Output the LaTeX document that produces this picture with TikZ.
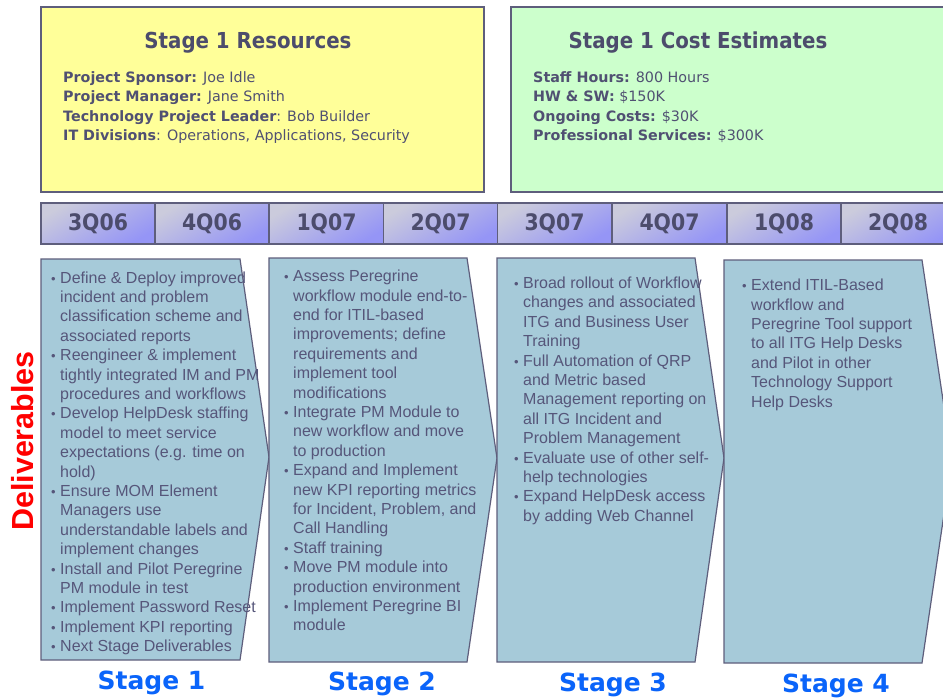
\documentclass[tikz,border=0pt]{standalone}
\usepackage{fontspec}
\setmainfont{Liberation Sans}
\newfontfamily\tah{DejaVu Sans Condensed}
\newfontfamily\verd{DejaVu Sans}
\definecolor{headc}{HTML}{4C4C6C}
\definecolor{bodyc}{HTML}{505072}
\definecolor{chevtext}{HTML}{56567A}
\definecolor{bordc}{HTML}{5E5E7C}
\definecolor{yelfill}{HTML}{FFFF99}
\definecolor{grnfill}{HTML}{CCFFCC}
\definecolor{chevfill}{HTML}{A6CAD9}
\definecolor{tlA}{HTML}{CBCBDC}
\definecolor{tlB}{HTML}{9595F6}
\definecolor{stageblue}{HTML}{0A64FA}
\newcommand{\bul}{\llap{{\fontsize{13}{13}\selectfont •}\hspace{4.5pt}}}
\tikzset{
  infobox/.style={line width=1.2pt, draw=bordc},
  chev/.style={fill=chevfill, draw=bordc, line width=1.2pt, line join=miter},
  qcell/.style={draw=bordc, line width=1.2pt, top color=tlA, bottom color=tlB,
    shading angle=30, minimum width=114pt, minimum height=41pt, inner sep=0pt,
    font=\tah\bfseries\fontsize{22.7}{24}\selectfont, text=headc},
  heading/.style={anchor=base, inner sep=0pt, text=headc,
    font=\tah\bfseries\fontsize{22}{24}\selectfont},
  infotext/.style={anchor=north west, inner sep=0pt, text=bodyc,
    font=\verd\fontsize{14.3}{19.5}\selectfont},
  chevlist/.style={anchor=north west, inner sep=0pt, text=chevtext,
    font=\fontsize{16}{19.4}\selectfont},
  stagelabel/.style={anchor=base, inner sep=0pt, text=stageblue,
    font=\verd\bfseries\fontsize{25}{26}\selectfont},
}
\begin{document}
\begin{tikzpicture}[x=1pt,y=-1pt]
\clip (0,0) rectangle (943,698);
\fill[white] (0,0) rectangle (943,698);

% top boxes
\draw[infobox, fill=yelfill] (41,7) rectangle (484,192);
\draw[infobox, fill=grnfill] (511,7) rectangle (970,192);
\node[heading] (reshead) at (248,49) {Stage 1 Resources};
\node[infotext] (restext) at (63,68.35) {\begin{tabular}{@{}l@{}}
\textbf{Project Sponsor:} Joe Idle\\
\textbf{Project Manager:} Jane Smith\\
\textbf{Technology Project Leader}: Bob Builder\\
\textbf{IT Divisions}: Operations, Applications, Security
\end{tabular}};
\node[heading] (costhead) at (698,49) {Stage 1 Cost Estimates};
\node[infotext] (costtext) at (533,68.35) {\begin{tabular}{@{}l@{}}
\textbf{Staff Hours:} 800 Hours\\
\textbf{HW \& SW:} \$150K\\
\textbf{Ongoing Costs:} \$30K\\
\textbf{Professional Services:} \$300K
\end{tabular}};

% timeline
\node[qcell] (q1) at (98,223.5) {3Q06};
\node[qcell] (q2) at (212,223.5) {4Q06};
\node[qcell] (q3) at (326.5,223.5) {1Q07};
\node[qcell] (q4) at (440.5,223.5) {2Q07};
\node[qcell] (q5) at (554.5,223.5) {3Q07};
\node[qcell] (q6) at (669.5,223.5) {4Q07};
\node[qcell] (q7) at (784,223.5) {1Q08};
\node[qcell] (q8) at (898,223.5) {2Q08};

% chevrons
\draw[chev] (41,259) -- (240,259) -- (269,457) -- (240,660) -- (41,660) -- cycle;
\draw[chev] (269,258) -- (467,258) -- (497,458) -- (467,662) -- (269,662) -- cycle;
\draw[chev] (497,258) -- (695,258) -- (724,458) -- (695,662) -- (497,662) -- cycle;
\draw[chev] (724,260) -- (922,260) -- (952,460) -- (922,663) -- (724,663) -- cycle;

\node[chevlist] (s1text) at (60,269.4) {\begin{tabular}{@{}l@{}}
\bul Define \& Deploy improved\\
incident and problem\\
classification scheme and\\
associated reports\\
\bul Reengineer \& implement\\
tightly integrated IM and PM\\
procedures and workflows\\
\bul Develop HelpDesk staffing\\
model to meet service\\
expectations (e.g. time on\\
hold)\\
\bul Ensure MOM Element\\
Managers use\\
understandable labels and\\
implement changes\\
\bul Install and Pilot Peregrine\\
PM module in test\\
\bul Implement Password Reset\\
\bul Implement KPI reporting\\
\bul Next Stage Deliverables
\end{tabular}};

\node[chevlist] (s2text) at (293,268) {\begin{tabular}{@{}l@{}}
\bul Assess Peregrine\\
workflow module end-to-\\
end for ITIL-based\\
improvements; define\\
requirements and\\
implement tool\\
modifications\\
\bul Integrate PM Module to\\
new workflow and move\\
to production\\
\bul Expand and Implement\\
new KPI reporting metrics\\
for Incident, Problem, and\\
Call Handling\\
\bul Staff training\\
\bul Move PM module into\\
production environment\\
\bul Implement Peregrine BI\\
module
\end{tabular}};

\node[chevlist] (s3text) at (523,274.7) {\begin{tabular}{@{}l@{}}
\bul Broad rollout of Workflow\\
changes and associated\\
ITG and Business User\\
Training\\
\bul Full Automation of QRP\\
and Metric based\\
Management reporting on\\
all ITG Incident and\\
Problem Management\\
\bul Evaluate use of other self-\\
help technologies\\
\bul Expand HelpDesk access\\
by adding Web Channel
\end{tabular}};

\node[chevlist] (s4text) at (751,277) {\begin{tabular}{@{}l@{}}
\bul Extend ITIL-Based\\
workflow and\\
Peregrine Tool support\\
to all ITG Help Desks\\
and Pilot in other\\
Technology Support\\
Help Desks
\end{tabular}};

% side label
\node[anchor=base, rotate=90, inner sep=0pt, text=red,
  font=\bfseries\fontsize{30.5}{32}\selectfont] (deliv) at (34,441) {Deliverables};

% stage labels
\node[stagelabel] (st1) at (151.5,689) {Stage 1};
\node[stagelabel] (st2) at (382,690) {Stage 2};
\node[stagelabel] (st3) at (613,691) {Stage 3};
\node[stagelabel] (st4) at (836,692) {Stage 4};
\end{tikzpicture}
\end{document}
